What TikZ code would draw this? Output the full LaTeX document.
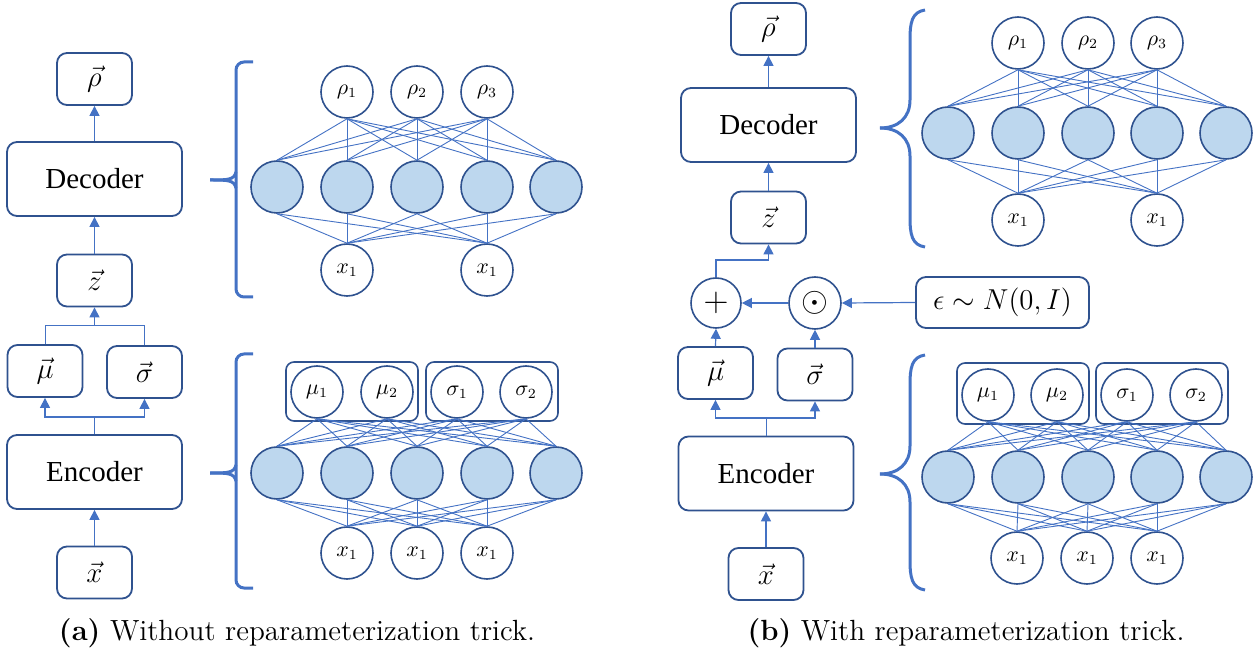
\documentclass[tikz,border=0pt]{standalone}
\usepackage{fontspec}
\usetikzlibrary{arrows.meta}
\newfontfamily\tnr{Liberation Serif}
\definecolor{bd}{HTML}{2F528F}
\definecolor{ln}{HTML}{4472C4}
\definecolor{fl}{HTML}{BDD7EE}
\tikzset{
  box/.style={draw=bd, line width=0.9pt, rounded corners=5pt, fill=white, inner sep=0pt,
    minimum width=37.5pt, minimum height=26pt, font=\fontsize{15.5}{17}\selectfont},
  bigbox/.style={box, minimum width=87.5pt, minimum height=37pt, font=\tnr\fontsize{14.5}{17}\selectfont},
  grp/.style={draw=bd, line width=0.8pt, rounded corners=4pt},
  neuron/.style={circle, draw=bd, line width=0.8pt, minimum size=26pt, inner sep=0pt, fill=white,
    font=\fontsize{10.5}{12}\selectfont},
  hid/.style={neuron, fill=fl},
  conn/.style={draw=ln, line width=0.45pt},
  arr/.style={draw=ln, line width=0.6pt, -{Triangle[width=5pt,length=5pt]}, color=ln},
  brc/.style={draw=ln, line width=1.5pt},
  captext/.style={font=\fontsize{14.6}{17}\selectfont, inner sep=0pt}
}
\begin{document}
\begin{tikzpicture}[x=0.5pt,y=-0.5pt]
\useasboundingbox (0,0) rectangle (1254,652);

%% ---------------- Left panel (a) ----------------
\node[box] (rhoA) at (94.5,79) {$\vec{\rho}$};
\node[bigbox] (decA) at (94.5,179) {Decoder};
\node[box] (zA) at (94.5,280.5) {$\vec{z}$};
\node[box] (muA) at (45,371) {$\vec{\mu}$};
\node[box] (sigA) at (144.5,372) {$\vec{\sigma}$};
\node[bigbox] (encA) at (94.5,472) {Encoder};
\node[box] (xA) at (94.5,572.5) {$\vec{x}$};

\coordinate (mergeA) at (94.5,325);
\coordinate (splitA) at (94.5,417);
\draw[arr] (decA.north) -- (rhoA.south);
\draw[arr] (zA.north) -- (decA.south);
\draw[conn] (muA.north) |- (mergeA);
\draw[conn] (sigA.north) |- (mergeA);
\draw[arr] (mergeA) -- (zA.south);
\draw[conn] (encA.north) -- (splitA);
\draw[arr] (splitA) -| (muA.south);
\draw[arr] (splitA) -| (sigA.south);
\draw[arr] (xA.north) -- (encA.south);

% top network (a)
\foreach \i/\x in {1/347,2/417,3/487} \node[neuron] (aro\i) at (\x,92) {$\rho_{\i}$};
\foreach \i/\x in {1/277,2/347,3/417,4/487,5/556} \node[hid] (ah\i) at (\x,187) {};
\node[neuron] (ax1) at (347,270) {$x_1$};
\node[neuron] (ax2) at (487,270) {$x_1$};
\foreach \i in {1,2,3} \foreach \j in {1,...,5} \draw[conn] (aro\i.south) -- (ah\j.north);
\foreach \j in {1,...,5} \foreach \k in {1,2} \draw[conn] (ah\j.south) -- (ax\k.north);

% bracket (a) top
\draw[brc, rounded corners=4pt] (253,62) -- (236,62) -- (236,297) -- (253,297);
\draw[brc] (210,180) .. controls (228,180) and (234,180) .. (236,172);
\draw[brc] (210,180) .. controls (228,180) and (234,180) .. (236,188);

% bottom network (a)
\draw[grp] (286,362) rectangle (418,421);
\draw[grp] (426,362) rectangle (558,421);
\node[neuron] (amu1) at (317,392) {$\mu_1$};
\node[neuron] (amu2) at (387,392) {$\mu_2$};
\node[neuron] (asg1) at (457,392) {$\sigma_1$};
\node[neuron] (asg2) at (526,392) {$\sigma_2$};
\foreach \i/\x in {1/277,2/347,3/417,4/487,5/556} \node[hid] (bh\i) at (\x,473) {};
\foreach \i/\x in {1/347,2/417,3/487} \node[neuron] (bx\i) at (\x,553) {$x_1$};
\foreach \t in {amu1,amu2,asg1,asg2} \foreach \j in {1,...,5} \draw[conn] (\t.south) -- (bh\j.north);
\foreach \j in {1,...,5} \foreach \k in {1,2,3} \draw[conn] (bh\j.south) -- (bx\k.north);

% bracket (a) bottom
\draw[brc, rounded corners=4pt] (253,354) -- (236,354) -- (236,588) -- (253,588);
\draw[brc] (210,473) .. controls (228,473) and (234,473) .. (236,465);
\draw[brc] (210,473) .. controls (228,473) and (234,473) .. (236,481);

\node[captext] (capA) at (297,633) {\textbf{(a)} Without reparameterization trick.};

%% ---------------- Right panel (b) ----------------
\node[box] (rhoB) at (768.5,29) {$\vec{\rho}$};
\node[bigbox] (decB) at (768.5,125) {Decoder};
\node[box] (zB) at (768.5,217.5) {$\vec{z}$};
\node[neuron, minimum size=25pt, font=\fontsize{16}{18}\selectfont] (plus) at (716,303) {$+$};
\node[neuron, minimum size=26pt, font=\fontsize{18}{20}\selectfont] (odot) at (815,303) {$\odot$};
\node[box, minimum width=86.5pt, minimum height=25.5pt, font=\fontsize{15.5}{17}\selectfont] (eps) at (1002.5,302.5) {$\epsilon\sim N(0,I)$};
\node[box] (muB) at (715.5,373) {$\vec{\mu}$};
\node[box] (sigB) at (815,374.5) {$\vec{\sigma}$};
\node[bigbox] (encB) at (766,473.5) {Encoder};
\node[box] (xB) at (766,574) {$\vec{x}$};

\coordinate (zin) at (768.5,260);
\coordinate (splitB) at (766,418);
\draw[arr] (decB.north) -- (rhoB.south);
\draw[arr] (zB.north) -- (decB.south);
\draw[arr] (plus.north) |- (zin) -- (zB.south);
\draw[arr] (eps.west) -- (odot.east);
\draw[arr] (odot.west) -- (plus.east);
\draw[arr] (muB.north) -- (plus.south);
\draw[arr] (sigB.north) -- (odot.south);
\draw[conn] (encB.north) -- (splitB);
\draw[arr] (splitB) -| (muB.south);
\draw[arr] (splitB) -| (sigB.south);
\draw[arr] (xB.north) -- (encB.south);

% top network (b)
\foreach \i/\x in {1/1018,2/1088,3/1157} \node[neuron] (cro\i) at (\x,43) {$\rho_{\i}$};
\foreach \i/\x in {1/948,2/1018,3/1088,4/1157,5/1226} \node[hid] (ch\i) at (\x,133) {};
\node[neuron] (cx1) at (1018,220) {$x_1$};
\node[neuron] (cx2) at (1157,220) {$x_1$};
\foreach \i in {1,2,3} \foreach \j in {1,...,5} \draw[conn] (cro\i.south) -- (ch\j.north);
\foreach \j in {1,...,5} \foreach \k in {1,2} \draw[conn] (ch\j.south) -- (cx\k.north);

% curly brace (b) top
\draw[brc] (925,10) .. controls (912,12) and (910,22) .. (910,40)
  -- (910,100) .. controls (910,118) and (898,128) .. (880,128);
\draw[brc] (880,128) .. controls (898,128) and (910,138) .. (910,156)
  -- (910,217) .. controls (910,235) and (912,245) .. (925,247);

% bottom network (b)
\draw[grp] (957,363) rectangle (1089,424);
\draw[grp] (1096,363) rectangle (1228,424);
\node[neuron] (dmu1) at (988,395) {$\mu_1$};
\node[neuron] (dmu2) at (1057,395) {$\mu_2$};
\node[neuron] (dsg1) at (1127,395) {$\sigma_1$};
\node[neuron] (dsg2) at (1196,395) {$\sigma_2$};
\foreach \i/\x in {1/948,2/1018,3/1088,4/1157,5/1226} \node[hid] (dh\i) at (\x,477) {};
\foreach \i/\x in {1/1017,2/1087,3/1157} \node[neuron] (dx\i) at (\x,558) {$x_1$};
\foreach \t in {dmu1,dmu2,dsg1,dsg2} \foreach \j in {1,...,5} \draw[conn] (\t.south) -- (dh\j.north);
\foreach \j in {1,...,5} \foreach \k in {1,2,3} \draw[conn] (dh\j.south) -- (dx\k.north);

% curly brace (b) bottom
\draw[brc] (925,355) .. controls (912,357) and (910,367) .. (910,385)
  -- (910,446) .. controls (910,464) and (898,474) .. (880,474);
\draw[brc] (880,474) .. controls (898,474) and (910,484) .. (910,502)
  -- (910,560) .. controls (910,578) and (912,588) .. (925,590);

\node[captext] (capB) at (966,633) {\textbf{(b)} With reparameterization trick.};
\end{tikzpicture}
\end{document}
